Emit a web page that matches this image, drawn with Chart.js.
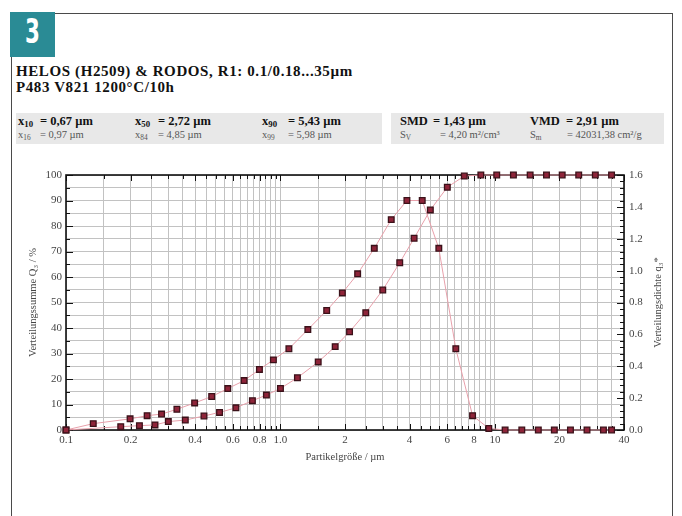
<!DOCTYPE html>
<html>
<head>
<meta charset="utf-8">
<script src="https://cdn.jsdelivr.net/npm/chart.js@4/dist/chart.umd.min.js"></script>
<style>
  html, body { margin: 0; padding: 0; background: #fff; }
  body { width: 682px; height: 516px; position: relative; overflow: hidden; font-family: "Liberation Serif", "Times New Roman", serif; }
  #frame { position: absolute; left: 11px; top: 13px; width: 660px; height: 520px; border: 1px solid #4a4a4a; }
  #badge { position: absolute; left: 10px; top: 12px; width: 45px; height: 45px; background: #2a8b95; }
  #badge span { position: absolute; left: 0; top: 0; width: 45px; line-height: 45px; text-align: center; color: #fff;
                font: bold 33px "Liberation Sans Narrow", "DejaVu Sans Condensed", sans-serif; transform: scaleX(0.72); }
  #title { position: absolute; left: 16px; top: 64px; font: bold 15px "Liberation Serif", serif; line-height: 15.5px;
           color: #111; letter-spacing: 0.6px; }
  .band { position: absolute; top: 113px; height: 31px; background: #e8e8e8; }
  .s { position: absolute; white-space: nowrap; color: #111; }
  .r1 { top: 114px; font: bold 12.5px "Liberation Serif", serif; }
  .r2 { top: 129px; font: 10.5px "Liberation Serif", serif; color: #555; }
  sub { font-size: 70%; vertical-align: -2px; line-height: 0; }
  canvas { position: absolute; left: 0; top: 0; }
</style>
</head>
<body>
<div id="frame"></div>
<div id="badge"><span>3</span></div>
<div id="title">HELOS (H2509) &amp; RODOS, R1: 0.1/0.18...35µm<br>P483 V821 1200°C/10h</div>

<div class="band" style="left:16px;width:366px"></div>
<div class="band" style="left:391px;width:273px"></div>

<div class="s r1" style="left:18px">x<sub>10</sub></div><div class="s r1" style="left:40px">= 0,67 µm</div>
<div class="s r1" style="left:135px">x<sub>50</sub></div><div class="s r1" style="left:158px">= 2,72 µm</div>
<div class="s r1" style="left:262px">x<sub>90</sub></div><div class="s r1" style="left:288px">= 5,43 µm</div>
<div class="s r1" style="left:400px">SMD</div><div class="s r1" style="left:433px">= 1,43 µm</div>
<div class="s r1" style="left:530px">VMD</div><div class="s r1" style="left:566px">= 2,91 µm</div>

<div class="s r2" style="left:18px">x<sub>16</sub></div><div class="s r2" style="left:40px">= 0,97 µm</div>
<div class="s r2" style="left:135px">x<sub>84</sub></div><div class="s r2" style="left:158px">= 4,85 µm</div>
<div class="s r2" style="left:262px">x<sub>99</sub></div><div class="s r2" style="left:288px">= 5,98 µm</div>
<div class="s r2" style="left:400px">S<sub>V</sub></div><div class="s r2" style="left:440px">= 4,20 m²/cm³</div>
<div class="s r2" style="left:530px">S<sub>m</sub></div><div class="s r2" style="left:567px">= 42031,38 cm²/g</div>

<canvas id="c" width="682" height="516"></canvas>

<script>
// Class boundaries of the R1 measuring range (µm) and cumulative distribution Q3 (%)
const sizeBounds = [0.1, 0.18, 0.22, 0.26, 0.30, 0.36, 0.44, 0.52, 0.62, 0.74, 0.86, 1.0, 1.2, 1.5, 1.8, 2.1,
                    2.5, 3.0, 3.6, 4.2, 5.0, 6.0, 7.2, 8.6, 10.2, 12.2, 14.6, 17.4, 20.6, 24.6, 29.4, 35];
const cumQ3 = [0, 1.3, 1.7, 2.0, 3.3, 3.9, 5.5, 6.9, 8.7, 11.5, 13.7, 16.3, 20.5, 26.7, 32.7, 38.5,
               46.0, 54.9, 65.6, 75.2, 86.3, 95.2, 99.6, 100, 100, 100, 100, 100, 100, 100, 100, 100];

// Class centres (µm) and density distribution q3*
const classMids = [0.1, 0.134, 0.199, 0.239, 0.279, 0.329, 0.398, 0.478, 0.568, 0.677, 0.798, 0.927, 1.095, 1.342,
                   1.643, 1.944, 2.291, 2.739, 3.286, 3.888, 4.583, 5.477, 6.573, 7.869, 9.366, 11.16, 13.35,
                   15.94, 18.93, 22.51, 26.89, 32.08, 35];
const densityQ3 = [0, 0.04, 0.07, 0.09, 0.10, 0.13, 0.17, 0.21, 0.26, 0.31, 0.38, 0.44, 0.51, 0.63,
                   0.75, 0.86, 0.98, 1.14, 1.32, 1.44, 1.44, 1.14, 0.51, 0.09, 0.01, 0, 0,
                   0, 0, 0, 0, 0, 0];

// Log grid of the particle-size axis and its labelled ticks
const gridSizes = [0.1, 0.15, 0.2, 0.25, 0.3, 0.35, 0.4, 0.45, 0.5, 0.55, 0.6, 0.65, 0.7, 0.75, 0.8, 0.85, 0.9, 0.95,
                   1, 1.5, 2, 2.5, 3, 3.5, 4, 4.5, 5, 5.5, 6, 6.5, 7, 7.5, 8, 8.5, 9, 9.5, 10, 15, 20, 25, 30, 35, 40];
const xLabelValues = [0.1, 0.2, 0.4, 0.6, 0.8, 1, 2, 4, 6, 8, 10, 20, 40];
const xLabelTexts  = ['0.1', '0.2', '0.4', '0.6', '0.8', '1.0', '2', '4', '6', '8', '10', '20', '40'];

const tickFont = { family: '"Liberation Serif", serif', size: 11 };
const tickColor = '#444';

function xLabelFor(v) {
  const i = xLabelValues.findIndex(t => Math.abs(t - v) / t < 1e-6);
  return i >= 0 ? xLabelTexts[i] : '';
}

// Frame, inward tick marks and the right-hand axis title
const framePlugin = {
  id: 'frame',
  beforeDatasetsDraw(chart) {
    const { ctx, chartArea: a, scales } = chart;
    ctx.save();
    ctx.strokeStyle = '#111';
    ctx.lineWidth = 1;
    ctx.beginPath();
    scales.x.ticks.forEach(t => {
      const px = Math.round(scales.x.getPixelForValue(t.value)) + 0.5;
      const len = xLabelFor(t.value) ? 6 : 4;
      ctx.moveTo(px, a.bottom); ctx.lineTo(px, a.bottom - len);
      ctx.moveTo(px, a.top); ctx.lineTo(px, a.top + len);
    });
    scales.y.ticks.forEach(t => {
      const py = Math.round(scales.y.getPixelForValue(t.value)) + 0.5;
      const len = (Math.round(t.value) % 10 === 0) ? 7 : 4;
      ctx.moveTo(a.left, py); ctx.lineTo(a.left + len, py);
    });
    scales.y1.ticks.forEach(t => {
      const py = Math.round(scales.y1.getPixelForValue(t.value)) + 0.5;
      const major = Math.abs(t.value * 5 - Math.round(t.value * 5)) < 1e-6;
      const len = major ? 7 : 4;
      ctx.moveTo(a.right, py); ctx.lineTo(a.right - len, py);
    });
    ctx.stroke();
    ctx.lineWidth = 1.6;
    ctx.strokeRect(a.left, a.top, a.right - a.left, a.bottom - a.top);

    ctx.fillStyle = '#444';
    ctx.font = '10.5px "Liberation Serif", serif';
    ctx.textAlign = 'center';
    ctx.textBaseline = 'middle';
    ctx.translate(658, (a.top + a.bottom) / 2);
    ctx.rotate(-Math.PI / 2);
    ctx.fillText('Verteilungsdichte q₃*', 0, 0);
    ctx.restore();
  }
};

const markStyle = {
  showLine: true,
  borderColor: '#e8a0ab',
  borderWidth: 1,
  pointStyle: 'rect',
  pointRadius: 4,
  pointBackgroundColor: '#8e2439',
  pointBorderColor: '#3a1119',
  pointBorderWidth: 1.3,
  clip: false
};

new Chart(document.getElementById('c'), {
  type: 'scatter',
  data: {
    datasets: [
      Object.assign({ label: 'Q3', yAxisID: 'y',
        data: sizeBounds.map((x, i) => ({ x, y: cumQ3[i] })) }, markStyle),
      Object.assign({ label: 'q3*', yAxisID: 'y1',
        data: classMids.map((x, i) => ({ x, y: densityQ3[i] })) }, markStyle)
    ]
  },
  options: {
    responsive: false,
    animation: false,
    layout: { padding: { left: 0, right: 0, top: 175, bottom: 36 } },
    plugins: { legend: { display: false }, tooltip: { enabled: false } },
    scales: {
      x: {
        type: 'logarithmic', min: 0.1, max: 40,
        afterBuildTicks: s => { s.ticks = gridSizes.map(v => ({ value: v })); },
        afterFit: s => { s.height = 50; },
        grid: { color: '#c2c2c2', lineWidth: 1, drawTicks: false },
        border: { display: false },
        ticks: { autoSkip: false, maxRotation: 0, padding: 4, font: tickFont, color: tickColor,
                 callback: v => xLabelFor(v) },
        title: { display: true, text: 'Partikelgröße / µm', color: '#444',
                 font: { family: '"Liberation Serif", serif', size: 10.5 }, padding: { top: 0, bottom: 16 } }
      },
      y: {
        position: 'left', min: 0, max: 100,
        afterFit: s => { s.width = 66; },
        grid: { color: '#c2c2c2', lineWidth: 1, drawTicks: false },
        border: { display: false },
        ticks: { stepSize: 5, autoSkip: false, padding: 4, font: tickFont, color: tickColor,
                 callback: v => (Math.round(v) % 10 === 0 ? String(Math.round(v)) : '') },
        title: { display: true, text: 'Verteilungssumme Q₃ / %', color: '#444',
                 font: { family: '"Liberation Serif", serif', size: 10.5 }, padding: { top: 27, bottom: 0 } }
      },
      y1: {
        position: 'right', min: 0, max: 1.6,
        afterFit: s => { s.width = 58; },
        grid: { display: false, drawTicks: false },
        border: { display: false },
        ticks: { stepSize: 0.04, autoSkip: false, padding: 5, font: tickFont, color: tickColor,
                 callback: v => (Math.abs(v * 5 - Math.round(v * 5)) < 1e-6 ? v.toFixed(1) : '') }
      }
    }
  },
  plugins: [framePlugin]
});
</script>
</body>
</html>
